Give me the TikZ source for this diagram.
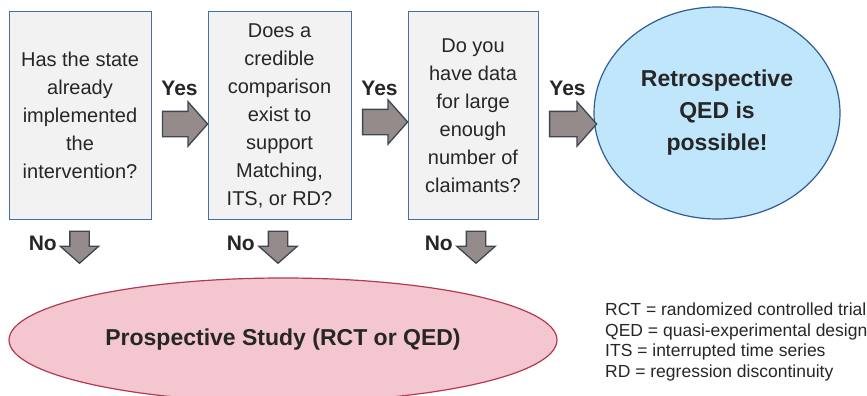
\documentclass[tikz,border=0pt]{standalone}
\usepackage{fontspec}
\setmainfont{Liberation Sans}
\usetikzlibrary{shapes.geometric,shapes.arrows}
\definecolor{boxfill}{HTML}{F2F2F2}
\definecolor{boxline}{HTML}{41719C}
\definecolor{arrowfill}{HTML}{968B8B}
\definecolor{arrowline}{HTML}{3F4652}
\definecolor{qedfill}{HTML}{C0E6FC}
\definecolor{qedline}{HTML}{2F5C9A}
\definecolor{studyfill}{HTML}{F4C6CF}
\definecolor{studyline}{HTML}{B23A52}
\definecolor{textdark}{HTML}{262626}
\tikzstyle{question}=[rectangle,draw=boxline,fill=boxfill,line width=1pt,minimum height=207pt,inner sep=0pt,align=center,text=textdark,font=\fontsize{20}{28}\selectfont]
\tikzstyle{yes arrow}=[single arrow,draw=arrowline,fill=arrowfill,line width=1.3pt,inner xsep=0pt,inner ysep=12pt,single arrow head extend=9.5pt,single arrow tip angle=97]
\tikzstyle{no arrow}=[yes arrow,inner ysep=9pt,minimum height=32pt,rotate=-90]
\tikzstyle{reply}=[inner sep=0pt,text=textdark,font=\fontsize{21}{21}\selectfont\bfseries]
\tikzstyle{outcome}=[ellipse,inner sep=0pt,line width=1.2pt,align=center,text=textdark,font=\fontsize{23}{32}\selectfont\bfseries]
\tikzstyle{legend}=[inner sep=0pt,align=left,text=textdark,font=\fontsize{17.5}{20.5}\selectfont]

\begin{document}
\begin{tikzpicture}[x=1pt,y=-1pt]
	\clip (0,0) rectangle (867,396);

	% First we draw the question boxes
	\foreach \pos/\name/\w/\txt in {{(80,115.5)/q1/142/{Has the state\\already\\implemented\\the\\intervention?}},
							{(279.5,115.5)/q2/143/{Does a\\credible\\comparison\\exist to\\support\\Matching,\\ITS, or RD?}},
							{(473,115.5)/q3/130/{Do you\\have data\\for large\\enough\\number of\\claimants?}}}
	\node[question,minimum width=\w pt] (\name) at \pos {\txt};

	% Outcomes
	\node[outcome,draw=qedline,fill=qedfill,minimum width=246pt,minimum height=212pt] (qed) at (717,113) {Retrospective\\QED is\\possible!};
	\node[outcome,draw=studyline,fill=studyfill,minimum width=548pt,minimum height=124pt] (study) at (283,340) {Prospective Study (RCT or QED)};

	% Yes arrows with their labels
	\foreach \x/\y/\name/\len in {179.5/124/y1/45, 379.5/122/y2/45, 567.5/124/y3/47}
	{
		\node[yes arrow,minimum height=\len pt] (\name) at (\x,\y) {};
		\node[reply] (\name lbl) at (\x,88) {Yes};
	}

	% No arrows with their labels
	\foreach \x/\name/\lx in {79.5/n1/57, 278/n2/255, 476/n3/453}
	{
		\node[no arrow] (\name) at (\x,243) {};
		\node[reply,anchor=east] (\name lbl) at (\lx,243.5) {No};
	}

	% Abbreviations
	\node[legend,anchor=west] (abbrev) at (605,342) {RCT = randomized controlled trial\\QED = quasi-experimental design\\ITS = interrupted time series\\RD = regression discontinuity};
\end{tikzpicture}
\end{document}
